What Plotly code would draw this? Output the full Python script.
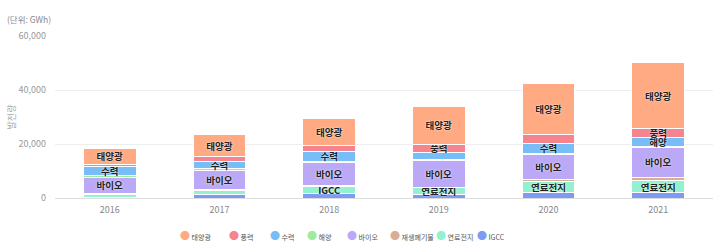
import plotly.graph_objects as go

years = ["2016", "2017", "2018", "2019", "2020", "2021"]

# GWh
solar = [5800, 8000, 10000, 14200, 18870, 24420]
wind = [1000, 1850, 2070, 2780, 3220, 3330]
hydro = [3330, 2700, 3700, 2660, 3810, 3110]
ocean = [500, 490, 480, 460, 450, 450]
bio = [6100, 7300, 8600, 9800, 9250, 11100]
waste = [400, 370, 400, 260, 740, 1220]
fuel = [850, 1480, 2400, 2590, 3810, 4440]
igcc = [370, 1220, 1780, 1220, 2220, 1960]

# labels drawn on the bar segments, as in the picture
solar_lbl = ["태양광", "태양광", "태양광", "태양광", "태양광", "태양광"]
wind_lbl = ["", "", "", "풍력", "", "풍력"]
hydro_lbl = ["수력", "수력", "수력", "", "수력", "해양"]
bio_lbl = ["바이오", "바이오", "바이오", "바이오", "바이오", "바이오"]
fuel_lbl = ["", "", "IGCC", "연료전지", "연료전지", "연료전지"]
empty = [""] * 6

names = ["태양광", "풍력", "수력", "해양", "바이오", "재생폐기물", "연료전지", "IGCC"]
colors = ["#FFAA82", "#F5848E", "#77BDF7", "#9DEB9D", "#BBA9F7", "#D9AE97", "#92F2CF", "#7D9BF2"]

FONT = "Noto Sans CJK KR"

# stack from bottom to top
stack = [
    ("IGCC", igcc, empty),
    ("연료전지", fuel, fuel_lbl),
    ("재생폐기물", waste, empty),
    ("바이오", bio, bio_lbl),
    ("해양", ocean, empty),
    ("수력", hydro, hydro_lbl),
    ("풍력", wind, wind_lbl),
    ("태양광", solar, solar_lbl),
]

fig = go.Figure()
for name, vals, lbl in stack:
    c = colors[names.index(name)]
    fig.add_trace(go.Bar(
        x=years, y=vals, name=name, text=lbl,
        marker=dict(color=c, line=dict(color="white", width=1)),
        textposition="inside", insidetextanchor="middle", textangle=0,
        constraintext="none",
        textfont=dict(family=FONT, size=9.5, color="#222222", weight="bold",
                      shadow="0px 0px 2px #ffffff"),
        showlegend=False, hoverinfo="skip",
    ))

# legend drawn as annotations with round markers (left edges in paper fraction)
leg_pos = [0.187, 0.261, 0.324, 0.380, 0.441, 0.506, 0.576, 0.638]
annotations = []
for p, n, c in zip(leg_pos, names, colors):
    annotations.append(dict(
        x=p, y=-0.23, xref="paper", yref="paper",
        xanchor="left", yanchor="middle", showarrow=False,
        text=f"<span style='color:{c};font-size:10px'>●</span> {n}",
        font=dict(family=FONT, size=7, color="#555555"),
    ))
annotations.append(dict(
    x=-0.076, y=1.105, xref="paper", yref="paper", xanchor="left", yanchor="middle",
    showarrow=False, text="(단위: GWh)", font=dict(family=FONT, size=8.5, color="#888888"),
))

fig.update_layout(
    barmode="stack", bargap=0.52,
    width=720, height=243,
    margin=dict(l=55, r=7, t=36, b=45),
    paper_bgcolor="white", plot_bgcolor="white",
    font=dict(family=FONT),
    uniformtext=dict(minsize=9.5, mode="show"),
    annotations=annotations,
    xaxis=dict(type="category", showgrid=False, showline=True, linecolor="#dddddd",
               linewidth=1, ticks="", tickfont=dict(size=9, color="#888888"),
               ticklabelstandoff=3),
    yaxis=dict(range=[0, 60000], dtick=20000, tickformat=",", gridcolor="#eeeeee",
               zeroline=False, showline=False, ticks="",
               tickfont=dict(size=9, color="#999999"), ticklabelstandoff=8,
               title=dict(text="발전량", font=dict(size=9, color="#aaaaaa"), standoff=1)),
)

fig.write_html("out.html")
